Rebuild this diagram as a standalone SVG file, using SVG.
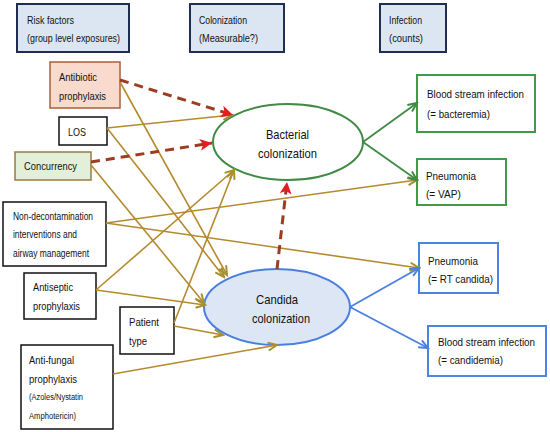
<svg xmlns="http://www.w3.org/2000/svg" width="550" height="432" viewBox="0 0 550 432">
<defs>
<style>
text{font-family:"Liberation Sans Narrow","Liberation Sans",Arial,sans-serif;fill:#111}
.t11{font-size:11px}
.t10{font-size:10px}
.t8{font-size:8.5px}
.t13{font-size:13px}
.hdr{fill:#dce6f2;stroke:#1f2d50;stroke-width:2}
.plain{fill:#fff;stroke:#111;stroke-width:1.5}
.grn{fill:#fff;stroke:#3f9a4a;stroke-width:2}
.blu{fill:#fff;stroke:#4a86e0;stroke-width:2}
.or{fill:none;stroke:#b58a2e;stroke-width:1.6}
.gl{fill:none;stroke:#3f8a45;stroke-width:1.8}
.bl{fill:none;stroke:#4a80e0;stroke-width:1.8}
.dr{fill:none;stroke:#a03a20;stroke-width:3;stroke-dasharray:9,6}
</style>
<marker id="ao" markerUnits="userSpaceOnUse" markerWidth="12" markerHeight="12" refX="10" refY="5" orient="auto"><path d="M1,1 L10,5 L1,9" fill="none" stroke="#a8902e" stroke-width="2"/></marker>
<marker id="ag" markerUnits="userSpaceOnUse" markerWidth="12" markerHeight="12" refX="10" refY="5" orient="auto"><path d="M1,1 L10,5 L1,9" fill="none" stroke="#3f8a45" stroke-width="2"/></marker>
<marker id="ab" markerUnits="userSpaceOnUse" markerWidth="12" markerHeight="12" refX="10" refY="5" orient="auto"><path d="M1,1 L10,5 L1,9" fill="none" stroke="#4a80e0" stroke-width="2"/></marker>
<marker id="ar" markerUnits="userSpaceOnUse" markerWidth="14" markerHeight="14" refX="12" refY="6" orient="auto"><path d="M0,0 L12,6 L0,12 L3,6 Z" fill="#e02020"/></marker>
</defs>
<rect width="550" height="432" fill="#fff"/>

<g id="hdr-risk"><rect class="hdr" x="17" y="4" width="112" height="48"/>
<text class="t11" x="27" y="24" textLength="47" lengthAdjust="spacingAndGlyphs">Risk factors</text>
<text class="t11" x="27" y="42" textLength="93" lengthAdjust="spacingAndGlyphs">(group level exposures)</text></g>
<g id="hdr-col"><rect class="hdr" x="190" y="4" width="94" height="48"/>
<text class="t11" x="199" y="24" textLength="48" lengthAdjust="spacingAndGlyphs">Colonization</text>
<text class="t11" x="199" y="42" textLength="59" lengthAdjust="spacingAndGlyphs">(Measurable?)</text></g>
<g id="hdr-inf"><rect class="hdr" x="380" y="4" width="66" height="48"/>
<text class="t11" x="389" y="24" textLength="33" lengthAdjust="spacingAndGlyphs">Infection</text>
<text class="t11" x="389" y="42" textLength="34" lengthAdjust="spacingAndGlyphs">(counts)</text></g>

<g id="antibiotic"><rect x="50" y="62" width="70" height="46" fill="#fadacd" stroke="#a8603a" stroke-width="1.5"/>
<text class="t11" x="59" y="81" textLength="38" lengthAdjust="spacingAndGlyphs">Antibiotic</text>
<text class="t11" x="59" y="100" textLength="47" lengthAdjust="spacingAndGlyphs">prophylaxis</text></g>
<g id="los"><rect class="plain" x="59" y="117" width="48" height="28"/>
<text class="t11" x="68" y="136" textLength="18" lengthAdjust="spacingAndGlyphs">LOS</text></g>
<g id="concurrency"><rect x="15" y="152" width="76" height="28" fill="#e2efd9" stroke="#9a7a40" stroke-width="1.5"/>
<text class="t11" x="24" y="170" textLength="53" lengthAdjust="spacingAndGlyphs">Concurrency</text></g>
<g id="nondecon"><rect class="plain" x="3" y="202" width="103" height="64"/>
<text class="t10" x="13" y="220" textLength="80" lengthAdjust="spacingAndGlyphs">Non-decontamination</text>
<text class="t10" x="13" y="238" textLength="64" lengthAdjust="spacingAndGlyphs">interventions and</text>
<text class="t10" x="13" y="257" textLength="76" lengthAdjust="spacingAndGlyphs">airway management</text></g>
<g id="antiseptic"><rect class="plain" x="24" y="273" width="72" height="46"/>
<text class="t11" x="33" y="291" textLength="40" lengthAdjust="spacingAndGlyphs">Antiseptic</text>
<text class="t11" x="33" y="310" textLength="47" lengthAdjust="spacingAndGlyphs">prophylaxis</text></g>
<g id="patient"><rect class="plain" x="120" y="307" width="54" height="47"/>
<text class="t11" x="129" y="326" textLength="30" lengthAdjust="spacingAndGlyphs">Patient</text>
<text class="t11" x="129" y="345" textLength="18" lengthAdjust="spacingAndGlyphs">type</text></g>
<g id="antifungal"><rect class="plain" x="21" y="345" width="92" height="84"/>
<text class="t11" x="29" y="364" textLength="45" lengthAdjust="spacingAndGlyphs">Anti-fungal</text>
<text class="t11" x="29" y="383" textLength="48" lengthAdjust="spacingAndGlyphs">prophylaxis</text>
<text class="t8" x="29" y="400" textLength="54" lengthAdjust="spacingAndGlyphs">(Azoles/Nystatin</text>
<text class="t8" x="29" y="419" textLength="47" lengthAdjust="spacingAndGlyphs">Amphotericin)</text></g>

<g id="bacterial"><ellipse cx="288" cy="142" rx="75" ry="38" fill="#fff" stroke="#3f8a45" stroke-width="2"/>
<text class="t13" x="266" y="139" textLength="43" lengthAdjust="spacingAndGlyphs">Bacterial</text>
<text class="t13" x="258" y="158" textLength="59" lengthAdjust="spacingAndGlyphs">colonization</text></g>
<g id="candida"><ellipse cx="277" cy="307" rx="73" ry="38" fill="#dce6f4" stroke="#4a7fe0" stroke-width="2"/>
<text class="t13" x="256" y="304" textLength="42" lengthAdjust="spacingAndGlyphs">Candida</text>
<text class="t13" x="252" y="323" textLength="58" lengthAdjust="spacingAndGlyphs">colonization</text></g>

<g id="bsi-bact"><rect class="grn" x="417" y="75" width="118" height="57"/>
<text class="t10" x="427" y="98" textLength="97" lengthAdjust="spacingAndGlyphs">Blood stream infection</text>
<text class="t10" x="427" y="118" textLength="63" lengthAdjust="spacingAndGlyphs">(= bacteremia)</text></g>
<g id="pn-vap"><rect class="grn" x="417" y="159" width="89" height="46"/>
<text class="t11" x="426" y="180" textLength="50" lengthAdjust="spacingAndGlyphs">Pneumonia</text>
<text class="t11" x="426" y="198" textLength="35" lengthAdjust="spacingAndGlyphs">(= VAP)</text></g>
<g id="pn-rt"><rect class="blu" x="419" y="243" width="79" height="50"/>
<text class="t11" x="428" y="265" textLength="50" lengthAdjust="spacingAndGlyphs">Pneumonia</text>
<text class="t10" x="428" y="283" textLength="65" lengthAdjust="spacingAndGlyphs">(= RT candida)</text></g>
<g id="bsi-cand"><rect class="blu" x="428" y="326" width="118" height="50"/>
<text class="t10" x="438" y="346" textLength="97" lengthAdjust="spacingAndGlyphs">Blood stream infection</text>
<text class="t10" x="438" y="364" textLength="65" lengthAdjust="spacingAndGlyphs">(= candidemia)</text></g>

<g id="connectors">
<path class="or" d="M107,128 L232,115" marker-end="url(#ao)"/>
<path class="or" d="M107,128 L224,277" marker-end="url(#ao)"/>
<path class="or" d="M120,82 L227,275" marker-end="url(#ao)"/>
<path class="or" d="M91,165 L204,303" marker-end="url(#ao)"/>
<path class="or" d="M96,290 L205,305" marker-end="url(#ao)"/>
<path class="or" d="M96,290 L234,170" marker-end="url(#ao)"/>
<path class="or" d="M174,323 L234,170" marker-end="url(#ao)"/>
<path class="or" d="M174,326 L223,335" marker-end="url(#ao)"/>
<path class="or" d="M113,374 L277,345" marker-end="url(#ao)"/>
<path class="or" d="M106,223 L417,180" marker-end="url(#ao)"/>
<path class="or" d="M106,223 L419,268" marker-end="url(#ao)"/>
<path class="gl" d="M363,142 L417,103" marker-end="url(#ag)"/>
<path class="gl" d="M363,142 L417,180" marker-end="url(#ag)"/>
<path class="bl" d="M350,307 L419,268" marker-end="url(#ab)"/>
<path class="bl" d="M350,307 L428,348" marker-end="url(#ab)"/>
<path class="dr" d="M120,80 L233,115" marker-end="url(#ar)"/>
<path class="dr" d="M91,162 L212,143" marker-end="url(#ar)"/>
<path class="dr" d="M277,269 L287,182" marker-end="url(#ar)"/>
</g>
</svg>
